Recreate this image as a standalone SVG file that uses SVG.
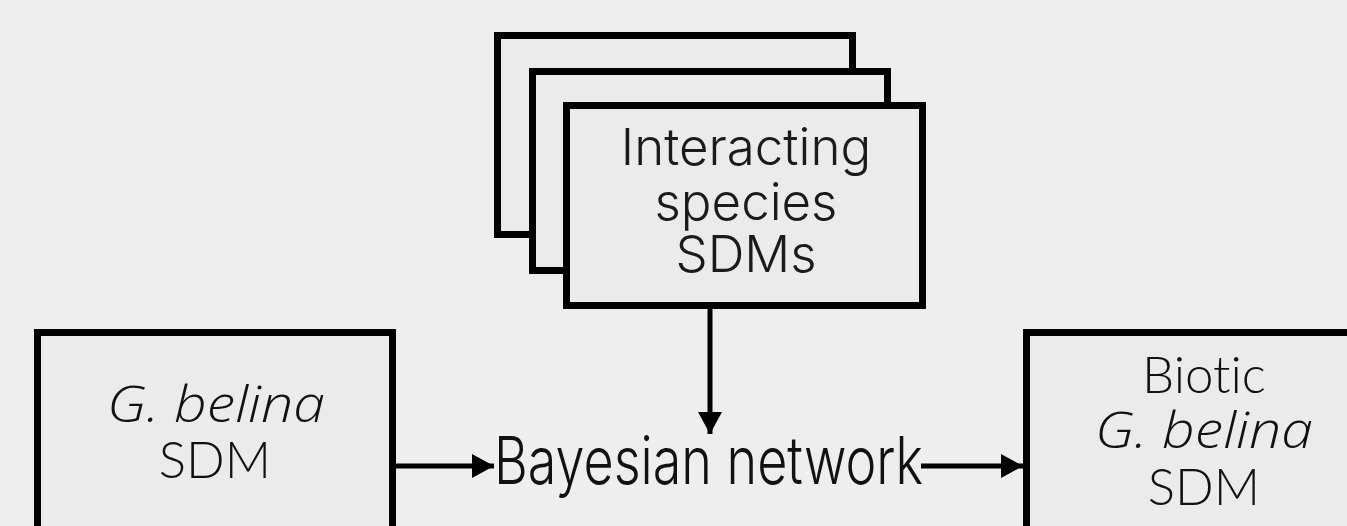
<svg xmlns="http://www.w3.org/2000/svg" width="1347" height="526" viewBox="0 0 1347 526">
  <style>
    .box { fill: #ebebea; stroke: #000; stroke-width: 7; }
    .link { stroke: #000; stroke-width: 5; fill: none; }
    text { font-variant-ligatures: none; }
    .stack-label { font-family: Inter, "Liberation Sans", sans-serif; font-weight: 300; font-size: 51px; fill: #1a1a1a; text-anchor: middle; }
    .label { font-family: Lato, "Open Sans", sans-serif; font-weight: 300; font-size: 51px; fill: #111; text-anchor: middle; }
    .sp { font-family: "Open Sans", Lato, sans-serif; font-style: italic; font-weight: 300; font-size: 50px; fill: #111; }
    .hub { font-family: Inter, "Liberation Sans", sans-serif; font-weight: 300; font-size: 66px; fill: #111; }
  </style>
  <defs>
    <marker id="arrow" markerUnits="userSpaceOnUse" markerWidth="22" markerHeight="24" refX="22" refY="12" orient="auto">
      <path d="M0,0 L22,12 L0,24 z" fill="#000"/>
    </marker>
  </defs>

  <rect width="1347" height="526" fill="#eeeeec"/>

  <!-- stacked interacting species SDMs -->
  <g id="species-sdms">
    <rect class="box" x="497.5" y="35.5" width="355" height="199"/>
    <rect class="box" x="532.5" y="71.5" width="355" height="199"/>
    <rect class="box" x="566.5" y="105.5" width="356" height="200"/>
    <text class="stack-label" x="746" y="165">Interacting</text>
    <text class="stack-label" x="746" y="220">species</text>
    <text class="stack-label" x="746" y="272">SDMs</text>
  </g>

  <!-- G. belina SDM -->
  <g id="gbelina-sdm">
    <rect class="box" x="37.5" y="332.5" width="355" height="260"/>
    <text class="sp" x="107" y="422" textLength="218" lengthAdjust="spacingAndGlyphs">G. belina</text>
    <text class="label" x="215" y="478">SDM</text>
  </g>

  <!-- Bayesian network -->
  <g id="bayesian-network">
    <text class="hub" x="494" y="484" textLength="429" lengthAdjust="spacingAndGlyphs">Bayesian network</text>
  </g>

  <!-- Biotic G. belina SDM -->
  <g id="biotic-sdm">
    <rect class="box" x="1026.5" y="332.5" width="356" height="260"/>
    <text class="label" x="1204" y="393">Biotic</text>
    <text class="sp" x="1095" y="448" textLength="218" lengthAdjust="spacingAndGlyphs">G. belina</text>
    <text class="label" x="1204" y="505">SDM</text>
  </g>

  <!-- connectors -->
  <g id="connectors">
    <line class="link" x1="710" y1="309" x2="710" y2="434" marker-end="url(#arrow)"/>
    <line class="link" x1="396" y1="466" x2="494" y2="466" marker-end="url(#arrow)"/>
    <line class="link" x1="921" y1="466" x2="1023" y2="466" marker-end="url(#arrow)"/>
  </g>
</svg>
